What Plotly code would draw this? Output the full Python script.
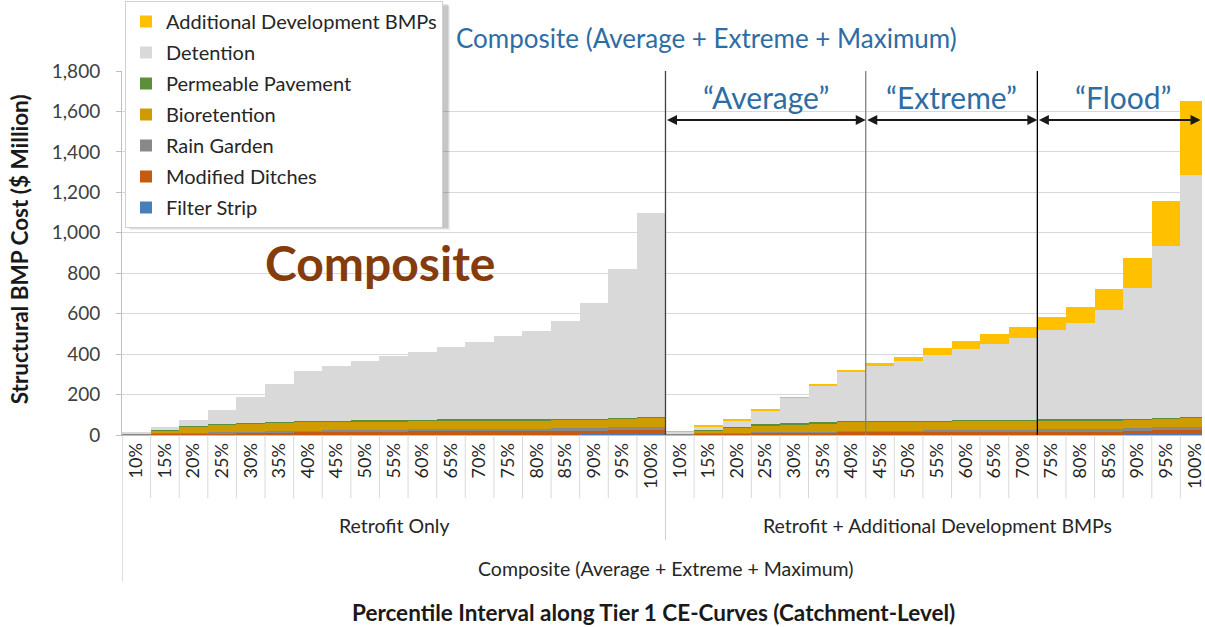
import plotly.graph_objects as go

# ---- categories -------------------------------------------------------------
percentiles = ["10%", "15%", "20%", "25%", "30%", "35%", "40%", "45%", "50%", "55%",
               "60%", "65%", "70%", "75%", "80%", "85%", "90%", "95%", "100%"]
scenario_groups = ["Retrofit Only", "Retrofit + Additional Development BMPs"]
outer_group = "Composite (Average + Extreme + Maximum)"

# ---- structural BMP cost ($ Million), Retrofit Only ---------------------------
ro_filter_strip = [0, 0, 0, 0, 0, 0, 0, 0, 0, 0, 0, 0, 0, 0, 0, 0, 4, 5, 6]
ro_modified_ditches = [4, 7, 8, 9, 10, 14, 15, 16, 17, 18, 18, 18, 19, 19, 19, 19, 18, 21, 21]
ro_rain_garden = [1, 2, 3, 4, 5, 6, 6, 8, 8, 8, 11, 12, 12, 12, 12, 16, 14, 14, 15]
ro_bioretention = [2, 13, 33, 37, 42, 42, 46, 43, 44, 43, 43, 44, 43, 43, 43, 40, 41, 40, 44]
ro_permeable_pavement = [0, 1, 3, 3, 3, 3, 3, 3, 3, 3, 3, 3, 3, 3, 3, 3, 3, 5, 5]
ro_detention = [5, 18, 25, 72, 130, 187, 246, 271, 294, 320, 334, 360, 381, 414, 439, 487, 574, 734, 1005]
ro_additional_dev = [0] * 19

# ---- structural BMP cost ($ Million), Retrofit + Additional Development BMPs --
ad_filter_strip = [0, 0, 0, 0, 0, 0, 0, 0, 0, 0, 0, 0, 0, 0, 0, 0, 4, 5, 6]
ad_modified_ditches = [4, 8, 9, 10, 11, 12, 15, 15, 15, 16, 16, 16, 16, 17, 17, 17, 18, 21, 21]
ad_rain_garden = [1, 3, 3, 3, 4, 4, 5, 7, 7, 9, 9, 9, 9, 14, 14, 14, 14, 14, 15]
ad_bioretention = [2, 11, 24, 36, 39, 43, 45, 43, 43, 40, 45, 45, 45, 43, 43, 43, 41, 40, 44]
ad_permeable_pavement = [0, 1, 3, 3, 3, 3, 3, 3, 3, 3, 3, 3, 3, 3, 3, 3, 3, 5, 5]
ad_detention = [11, 17, 35, 71, 127, 185, 245, 271, 297, 329, 351, 378, 409, 440, 478, 539, 649, 849, 1197]
ad_additional_dev = [1, 5, 4, 3, 3, 3, 4, 16, 23, 33, 43, 48, 53, 69, 79, 105, 145, 222, 366]

# ---- layout geometry (pixels) -------------------------------------------------
FIG_W, FIG_H = 1205, 627
PLOT_L, PLOT_R, PLOT_T, PLOT_B = 122, 1205, 71, 435
N_CAT = 2 * len(percentiles)
CAT_W = (1212 - PLOT_L) / N_CAT
X_MAX = -0.5 + (PLOT_R - PLOT_L) / CAT_W
Y_MAX = 1800

# legend box (pixels)
LEG_L, LEG_T, LEG_R, LEG_B = 125, 1, 446, 225


def px_to_paper_x(px):
    return (px - PLOT_L) / (PLOT_R - PLOT_L)


def px_to_paper_y(py):
    return (PLOT_B - py) / (PLOT_B - PLOT_T)


def py_to_value(py):
    return (PLOT_B - py) / (PLOT_B - PLOT_T) * Y_MAX


x_pos = list(range(N_CAT))
tick_text = percentiles + percentiles

# stacking order bottom -> top
series = [
    ("Filter Strip", ro_filter_strip, ad_filter_strip, "#4A7EBB"),
    ("Modified Ditches", ro_modified_ditches, ad_modified_ditches, "#C55A11"),
    ("Rain Garden", ro_rain_garden, ad_rain_garden, "#888888"),
    ("Bioretention", ro_bioretention, ad_bioretention, "#CF9C00"),
    ("Permeable Pavement", ro_permeable_pavement, ad_permeable_pavement, "#5B8F3A"),
    ("Detention", ro_detention, ad_detention, "#D9D9D9"),
    ("Additional Development BMPs", ro_additional_dev, ad_additional_dev, "#FFC000"),
]

FONT = "Lato"
TEXT_COLOR = "#404040"
BLUE = "#2E6DA4"

fig = go.Figure()
for i, (name, ro_vals, ad_vals, color) in enumerate(series):
    fig.add_trace(go.Bar(
        x=x_pos,
        y=ro_vals + ad_vals,
        name=name,
        legendgroup=f"g{i}",
        legendrank=len(series) - i,  # top of the stack listed first
        marker=dict(color=color, line=dict(width=0)),
        width=1.0,
    ))

shapes = []
# light cell separators under the category axis
sep_bottom = px_to_paper_y(498)
for k in range(1, N_CAT):
    if k == len(percentiles):
        continue
    shapes.append(dict(type="line", xref="x", yref="paper", x0=k - 0.5, x1=k - 0.5,
                       y0=0, y1=sep_bottom, line=dict(color="#D9D9D9", width=1)))
# group divider and outer frame lines under the axis
shapes.append(dict(type="line", xref="x", yref="paper", x0=len(percentiles) - 0.5,
                   x1=len(percentiles) - 0.5, y0=0, y1=px_to_paper_y(540),
                   line=dict(color="#D0D0D0", width=1)))
shapes.append(dict(type="line", xref="x", yref="paper", x0=-0.5, x1=-0.5,
                   y0=0, y1=px_to_paper_y(582), line=dict(color="#BFBFBF", width=1)))
# vertical markers inside the plot area
for xv, col in [(len(percentiles) - 0.5, "#404040"), (25.5, "#808080"), (31.5, "#000000")]:
    shapes.append(dict(type="line", xref="x", yref="paper", x0=xv, x1=xv, y0=0, y1=1,
                       line=dict(color=col, width=1.3), layer="above"))
# soft legend drop shadow
for off, alpha in [(5, 0.06), (4, 0.08), (3, 0.10)]:
    shapes.append(dict(type="rect", xref="paper", yref="paper",
                       x0=px_to_paper_x(LEG_L + off), x1=px_to_paper_x(LEG_R + off),
                       y0=px_to_paper_y(LEG_B + off), y1=px_to_paper_y(LEG_T + off),
                       fillcolor=f"rgba(0,0,0,{alpha})", line=dict(width=0), layer="above"))

annotations = []
# double-headed range arrows
arrow_y = py_to_value(120)
for x0, x1 in [(18.5, 25.5), (25.5, 31.5), (31.5, X_MAX - 0.05)]:
    annotations.append(dict(x=x1, y=arrow_y, ax=x0, ay=arrow_y, xref="x", yref="y",
                            axref="x", ayref="y", text="", showarrow=True,
                            arrowhead=2, startarrowhead=2, arrowside="end+start",
                            arrowwidth=2, arrowsize=1, arrowcolor="#1A1A1A",
                            standoff=0, startstandoff=0))
for label, xc in [("\u201cAverage\u201d", 22.0), ("\u201cExtreme\u201d", 28.5), ("\u201cFlood\u201d", 34.5)]:
    annotations.append(dict(x=xc, y=px_to_paper_y(97), xref="x", yref="paper", text=label,
                            xanchor="center", yanchor="middle", showarrow=False,
                            font=dict(family=FONT, size=30, color=BLUE)))
# chart title
annotations.append(dict(x=px_to_paper_x(708), y=px_to_paper_y(38), xref="paper", yref="paper",
                        text=outer_group, showarrow=False, xanchor="center", yanchor="middle",
                        font=dict(family=FONT, size=26, color=BLUE)))
# big panel label
annotations.append(dict(x=px_to_paper_x(381), y=px_to_paper_y(262), xref="paper", yref="paper",
                        text="<b>Composite</b>", showarrow=False, xanchor="center", yanchor="middle",
                        font=dict(family=FONT, size=48, color="#843C0C")))
# category group labels
for text, xc, py in [(scenario_groups[0], 9, 525), (scenario_groups[1], 28, 525),
                     (outer_group, 18.5, 568)]:
    annotations.append(dict(x=xc, y=px_to_paper_y(py), xref="x", yref="paper",
                            text=text, showarrow=False, xanchor="center", yanchor="middle",
                            font=dict(family=FONT, size=19.5, color="#262626")))
# axis titles
annotations.append(dict(x=px_to_paper_x(655), y=px_to_paper_y(612), xref="paper", yref="paper",
                        text="<b>Percentile Interval along Tier 1 CE-Curves (Catchment-Level)</b>",
                        showarrow=False, xanchor="center", yanchor="middle",
                        font=dict(family=FONT, size=22.5, color="#1A1A1A")))
annotations.append(dict(x=px_to_paper_x(19), y=px_to_paper_y(249), xref="paper", yref="paper",
                        text="<b>Structural BMP Cost ($ Million)</b>", textangle=-90,
                        showarrow=False, xanchor="center", yanchor="middle",
                        font=dict(family=FONT, size=22.5, color="#1A1A1A")))

fig.update_layout(
    width=FIG_W, height=FIG_H,
    margin=dict(l=PLOT_L, r=FIG_W - PLOT_R, t=PLOT_T, b=FIG_H - PLOT_B, pad=0),
    paper_bgcolor="white", plot_bgcolor="white",
    barmode="stack", bargap=0,
    font=dict(family=FONT, color=TEXT_COLOR),
    showlegend=True,
    legend=dict(x=px_to_paper_x(LEG_L), y=px_to_paper_y(LEG_T), xanchor="left", yanchor="top",
                traceorder="grouped", tracegroupgap=2,
                bgcolor="white", bordercolor="#D0D0D0", borderwidth=1,
                font=dict(family=FONT, size=20, color="#262626")),
    xaxis=dict(range=[-0.5, X_MAX], tickmode="array", tickvals=x_pos, ticktext=tick_text,
               tickangle=-90, tickfont=dict(family=FONT, size=18, color="#262626"),
               ticklabeloverflow="allow",
               showgrid=False, zeroline=False, showline=True, linecolor="#BFBFBF",
               ticks="", fixedrange=True),
    yaxis=dict(range=[0, Y_MAX], dtick=200, tickformat=",", showgrid=True,
               gridcolor="#D9D9D9", gridwidth=1, zeroline=False, showline=True,
               linecolor="#BFBFBF", ticks="outside", ticklen=5, tickcolor="#BFBFBF",
               ticklabelstandoff=12,
               tickfont=dict(family=FONT, size=19, color="#404040")),
    shapes=shapes,
    annotations=annotations,
)

fig.write_html("out.html")
